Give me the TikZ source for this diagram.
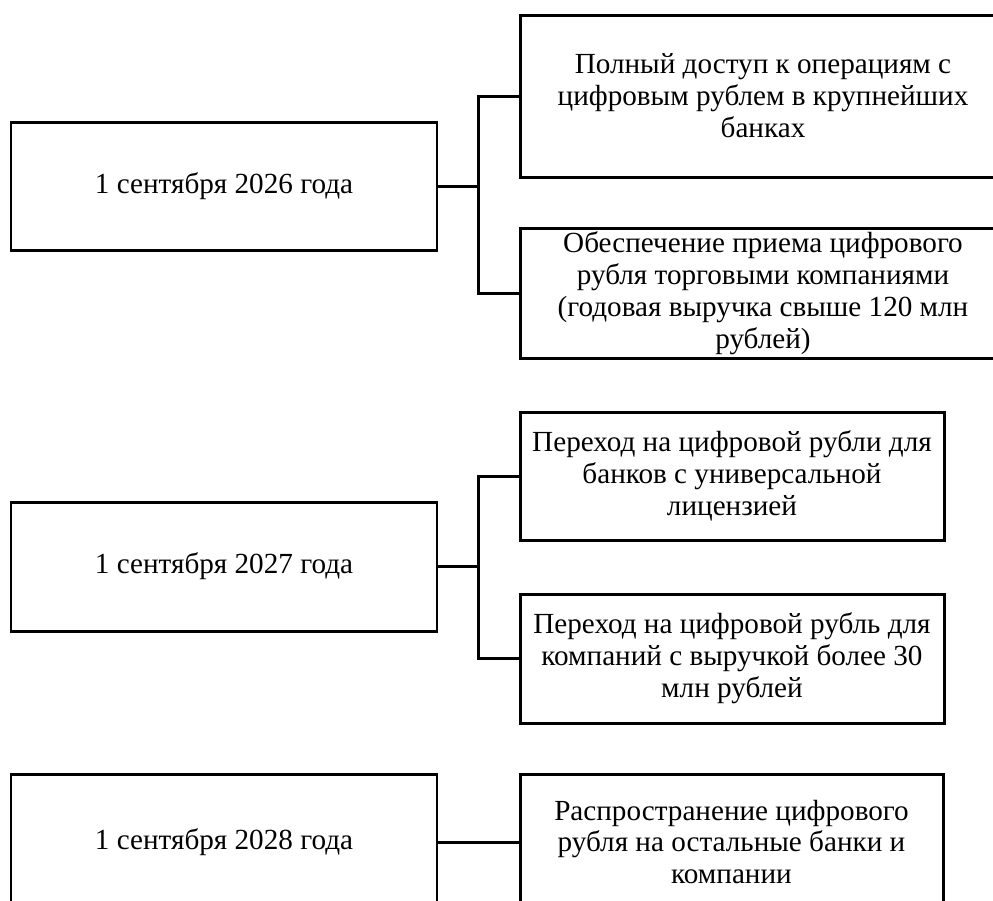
\documentclass[tikz,border=0pt]{standalone}
\usepackage{fontspec}
\setmainfont{Liberation Serif}
\usepackage{tikz}
\usetikzlibrary{positioning}

\tikzset{
	datebox/.style={draw, rectangle, line width=1.7pt, minimum width=8.52cm, inner sep=1pt, align=center},
	eventbox/.style={draw, rectangle, line width=1.7pt, inner sep=1pt, align=center},
	link/.style={line width=1.7pt}
}
\newcommand{\txt}{\fontsize{16.6pt}{18.2pt}\selectfont}

\begin{document}
\begin{tikzpicture}[font=\txt]
	\useasboundingbox (0,0) rectangle (19.86,-18);

	% 2026
	\node[datebox, minimum height=2.56cm] (d_1) at (4.48,-3.72) {1 сентября 2026 года};
	\node[eventbox, minimum width=9.72cm, minimum height=3.24cm] (s_1) at (15.26,-1.92)
		{Полный доступ к операциям с\\цифровым рублем в крупнейших\\банках};
	\node[eventbox, minimum width=9.72cm, minimum height=2.6cm] (s_2) at (15.26,-5.86)
		{Обеспечение приема цифрового\\рубля торговыми компаниями\\(годовая выручка свыше 120 млн\\рублей)};
	\coordinate (j_1) at (9.56,-3.72);

	\draw[link] (d_1.east) -- (j_1);
	\draw[link] (s_1.west) -| (j_1) |- (s_2.west);

	% 2027
	\node[datebox, minimum height=2.58cm] (d_2) at (4.48,-11.33) {1 сентября 2027 года};
	\node[eventbox, minimum width=8.48cm, minimum height=2.56cm] (s_3) at (14.64,-9.52)
		{Переход на цифровой рубли для\\банков с универсальной\\лицензией};
	\node[eventbox, minimum width=8.48cm, minimum height=2.58cm] (s_4) at (14.64,-13.17)
		{Переход на цифровой рубль для\\компаний с выручкой более 30\\млн рублей};
	\coordinate (j_2) at (9.56,-11.33);

	\draw[link] (d_2.east) -- (j_2);
	\draw[link] (s_3.west) -| (j_2) |- (s_4.west);

	% 2028
	\node[datebox, minimum height=2.72cm] (d_3) at (4.48,-16.84) {1 сентября 2028 года};
	\node[eventbox, minimum width=8.46cm, minimum height=2.72cm] (s_5) at (14.63,-16.84)
		{Распространение цифрового\\рубля на остальные банки и\\компании};

	\draw[link] (d_3) -- (s_5);
\end{tikzpicture}
\end{document}
